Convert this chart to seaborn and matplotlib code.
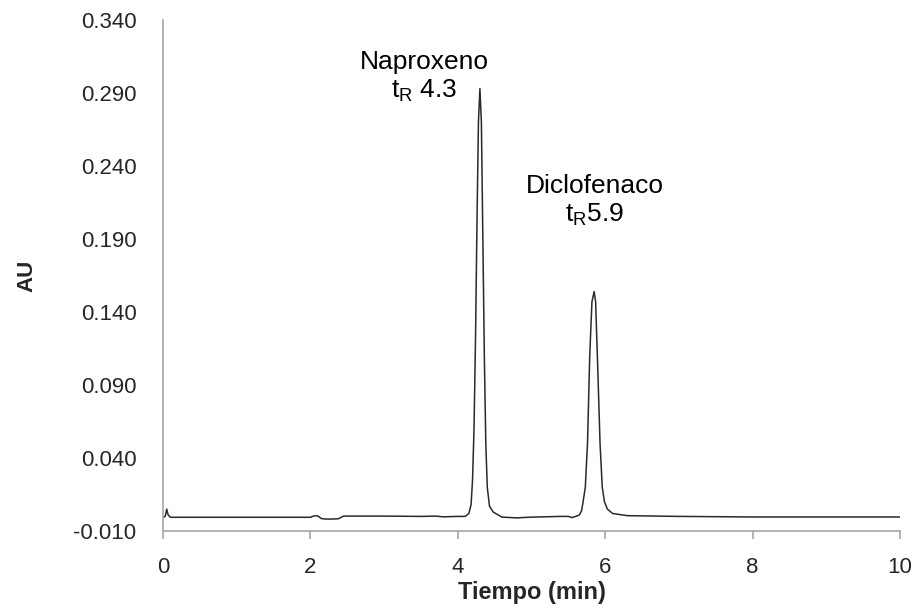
import matplotlib
matplotlib.use("Agg")
import matplotlib.pyplot as plt
import seaborn as sns
import pandas as pd
from matplotlib.ticker import FormatStrFormatter

# ---- data ----
time_min = [0.00, 0.03, 0.05, 0.07, 0.10, 0.20, 1.00, 2.00, 2.05, 2.10, 2.15,
            2.20, 2.30, 2.38, 2.45, 3.00, 3.50, 3.70, 3.80, 4.00, 4.10, 4.15,
            4.18, 4.20, 4.22, 4.24, 4.26, 4.28, 4.30, 4.32, 4.34, 4.36, 4.38,
            4.40, 4.43, 4.48, 4.60, 4.80, 5.00, 5.40, 5.50, 5.55, 5.60, 5.65,
            5.68, 5.70, 5.73, 5.76, 5.79, 5.82, 5.85, 5.87, 5.90, 5.93, 5.96,
            5.99, 6.03, 6.10, 6.30, 7.00, 8.00, 9.00, 10.00]
absorbance = [-0.0006, 0.0000, 0.0050, 0.0010, -0.0006, -0.0006, -0.0006, -0.0006,
              0.0004, 0.0003, -0.0015, -0.0018, -0.0018, -0.0016, 0.0002, 0.0002,
              0.0000, 0.0002, -0.0003, 0.0000, 0.0000, 0.0020, 0.0080, 0.0250,
              0.0600, 0.1200, 0.2000, 0.2700, 0.2930, 0.2700, 0.1900, 0.1100,
              0.0500, 0.0200, 0.0070, 0.0030, -0.0005, -0.0010, -0.0005, 0.0000,
              0.0000, -0.0008, 0.0000, 0.0010, 0.0040, 0.0100, 0.0200, 0.0500,
              0.1100, 0.1470, 0.1540, 0.1470, 0.1000, 0.0500, 0.0200, 0.0100,
              0.0050, 0.0020, 0.0005, 0.0000, -0.0004, -0.0004, -0.0004]

y_ticks = [-0.010, 0.040, 0.090, 0.140, 0.190, 0.240, 0.290, 0.340]
x_ticks = [0, 2, 4, 6, 8, 10]

peak_labels = ["Naproxeno\n$\\mathregular{t_R}$ 4.3", "Diclofenaco\n$\\mathregular{t_R}$5.9"]
peak_label_x = [3.55, 5.86]
peak_label_y = [0.301, 0.216]

df = pd.DataFrame({"Tiempo (min)": time_min, "AU": absorbance})

sns.set_style("white")
plt.rcParams["font.family"] = ["Liberation Sans", "DejaVu Sans"]
plt.rcParams["mathtext.fontset"] = "custom"
plt.rcParams["mathtext.rm"] = "Liberation Sans"

fig = plt.figure(figsize=(9.2, 6.11), dpi=100)
ax = fig.add_axes([163 / 920, 1 - 531 / 611, (900 - 163) / 920, (531 - 20) / 611])

sns.lineplot(data=df, x="Tiempo (min)", y="AU", ax=ax, color="#2a2a2a",
             linewidth=1.1, estimator=None, sort=False)

ax.set_xlim(0, 10)
ax.set_ylim(-0.010, 0.340)
ax.set_xticks(x_ticks)
ax.set_yticks(y_ticks)
ax.yaxis.set_major_formatter(FormatStrFormatter("%.3f"))

for s in ["top", "right"]:
    ax.spines[s].set_visible(False)
for s in ["left", "bottom"]:
    ax.spines[s].set_color("#a6a6a6")
    ax.spines[s].set_linewidth(1.2)

ax.tick_params(axis="x", direction="out", length=6, width=1.2, color="#a6a6a6",
               labelsize=16, pad=13, bottom=True)
ax.tick_params(axis="y", length=0, labelsize=16, pad=19, left=False)

ax.set_xlabel("Tiempo (min)", fontsize=17, fontweight="bold", labelpad=2)
ax.set_ylabel("AU", fontsize=16, fontweight="bold", labelpad=26)

for lab, lx, ly in zip(peak_labels, peak_label_x, peak_label_y):
    ax.text(lx, ly, lab, ha="center", va="center", fontsize=19,
            linespacing=1.15, color="black")

fig.savefig("out.png", dpi=100)
